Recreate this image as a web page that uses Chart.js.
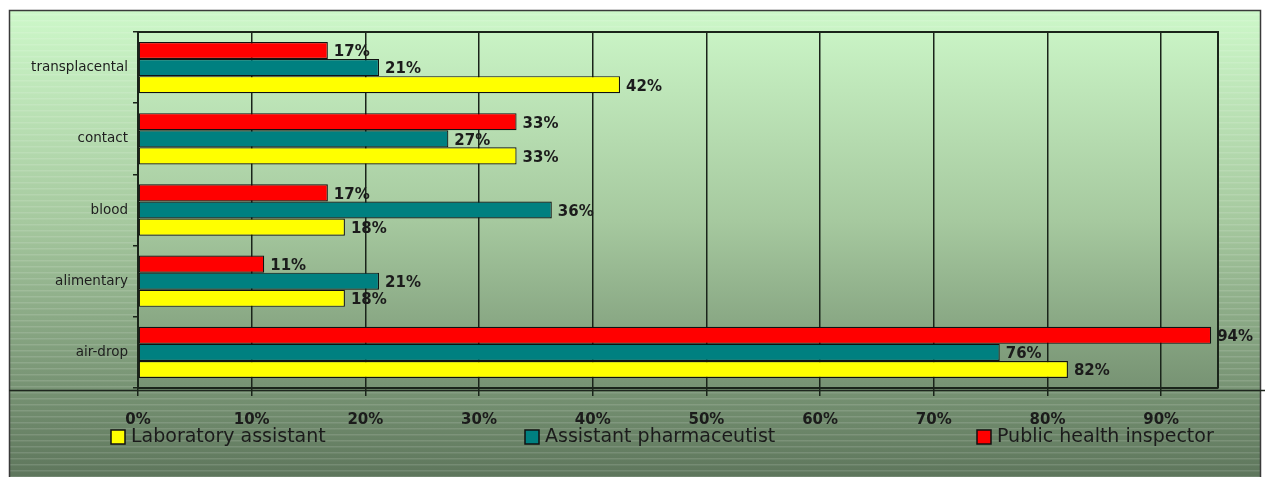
<!DOCTYPE html>
<html>
<head>
<meta charset="utf-8">
<script src="https://cdn.jsdelivr.net/npm/chart.js@4.4.1/dist/chart.umd.min.js"></script>
<style>
  html, body { margin: 0; padding: 0; background: #fff; }
  #wrap { width: 1265px; height: 477px; }
</style>
</head>
<body>
<div id="wrap"><canvas id="chartRoutes" width="1265" height="477"></canvas></div>
<script>
// ---- data ----
const routes = ["transplacental", "contact", "blood", "alimentary", "air-drop"];
const inspector = [16.7, 33.3, 16.7, 11.1, 94.4];     // Public health inspector
const pharmaceutist = [21.2, 27.3, 36.4, 21.2, 75.8]; // Assistant pharmaceutist
const labAssistant = [42.4, 33.3, 18.2, 18.2, 81.8];  // Laboratory assistant
const xTicks = [0, 10, 20, 30, 40, 50, 60, 70, 80, 90];
const legendOrder = [2, 1, 0]; // yellow, teal, red

const FONT = "'DejaVu Sans', Verdana, sans-serif";

// background: green gradient frame with faint stripes
const bgPlugin = {
  id: "bgFrame",
  beforeDraw(chart) {
    const c = chart.ctx, a = chart.chartArea;
    const W = chart.width, H = chart.height;
    c.save();
    c.fillStyle = "#ffffff";
    c.fillRect(0, 0, W, H);
    const g = c.createLinearGradient(0, 10, 0, H);
    g.addColorStop(0, "#cdf8c9");
    g.addColorStop(0.45, "#a6c99f");
    g.addColorStop(1, "#5e765c");
    c.fillStyle = g;
    c.fillRect(9, 10, 1252, H - 10);
    // stripes
    c.fillStyle = "rgba(255,255,255,0.13)";
    for (let y = 14; y < H; y += 6) c.fillRect(9, y, 1252, 1.5);
    // plot area without stripes
    c.fillStyle = g;
    c.fillRect(a.left, a.top, a.right - a.left, a.bottom - a.top);
    // outer frame
    c.strokeStyle = "#3a3a3a";
    c.lineWidth = 1.5;
    c.strokeRect(9.5, 10.5, 1251, H);
    // horizontal divider under plot
    c.strokeStyle = "#1e261e";
    c.lineWidth = 1.5;
    c.beginPath();
    c.moveTo(9, 390.5);
    c.lineTo(W, 390.5);
    c.stroke();
    c.restore();
  },
  afterDatasetsDraw(chart) {
    const c = chart.ctx, a = chart.chartArea;
    c.save();
    c.strokeStyle = "#1a241a";
    c.lineWidth = 2;
    c.beginPath();
    c.moveTo(a.left, a.top);
    c.lineTo(a.right, a.top);
    c.lineTo(a.right, a.bottom);
    c.stroke();
    c.restore();
  }
};

// value labels right of each bar
const valueLabels = {
  id: "valueLabels",
  afterDatasetsDraw(chart) {
    const c = chart.ctx;
    c.save();
    c.font = "bold 15px " + FONT;
    c.fillStyle = "#1b1b1b";
    c.textAlign = "left";
    c.textBaseline = "middle";
    chart.data.datasets.forEach((ds, i) => {
      chart.getDatasetMeta(i).data.forEach((el, j) => {
        c.fillText(Math.round(ds.data[j]) + "%", el.x + 6, el.y + 2);
      });
    });
    c.restore();
  }
};

// legend spread along the bottom
const wideLegend = {
  id: "wideLegend",
  afterDraw(chart) {
    const c = chart.ctx;
    const xs = [111, 525, 977];
    c.save();
    c.font = "19px " + FONT;
    c.textBaseline = "middle";
    c.textAlign = "left";
    legendOrder.forEach((di, k) => {
      const ds = chart.data.datasets[di];
      const x = xs[k], y = 437;
      c.fillStyle = ds.backgroundColor;
      c.fillRect(x, y - 7, 14, 14);
      c.strokeStyle = "#111";
      c.lineWidth = 1.5;
      c.strokeRect(x, y - 7, 14, 14);
      c.fillStyle = "#1b1b1b";
      c.fillText(ds.label, x + 20, y);
    });
    c.restore();
  }
};

const barStyle = { borderColor: "#111", borderWidth: 1.2, borderSkipped: false };

new Chart(document.getElementById("chartRoutes"), {
  type: "bar",
  data: {
    labels: routes,
    datasets: [
      { label: "Public health inspector", data: inspector, backgroundColor: "#ff0000", ...barStyle },
      { label: "Assistant pharmaceutist", data: pharmaceutist, backgroundColor: "#008080", ...barStyle },
      { label: "Laboratory assistant", data: labAssistant, backgroundColor: "#ffff00", ...barStyle }
    ]
  },
  options: {
    indexAxis: "y",
    responsive: false,
    animation: false,
    layout: { padding: { top: 32, right: 47, left: 0, bottom: 0 } },
    datasets: { bar: { categoryPercentage: 0.72, barPercentage: 1.0 } },
    plugins: { legend: { display: false }, tooltip: { enabled: false } },
    scales: {
      x: {
        min: 0,
        max: 95,
        afterBuildTicks: s => { s.ticks = xTicks.map(v => ({ value: v })); },
        afterFit: s => { s.height = 89; },
        grid: { color: "#1a241a", lineWidth: 1.5, tickLength: 8 },
        border: { color: "#1a241a", width: 2 },
        ticks: {
          padding: 15,
          color: "#1b1b1b",
          font: { family: FONT, size: 15, weight: "bold" },
          callback: v => v + "%"
        }
      },
      y: {
        afterFit: s => { s.width = 138; },
        grid: { offset: true, drawOnChartArea: false, tickLength: 5, color: "#1a241a", lineWidth: 1.5 },
        border: { color: "#1a241a", width: 2 },
        ticks: {
          padding: 5,
          color: "#1e1e1e",
          font: { family: FONT, size: 13.5 }
        }
      }
    }
  },
  plugins: [bgPlugin, valueLabels, wideLegend]
});
</script>
</body>
</html>
